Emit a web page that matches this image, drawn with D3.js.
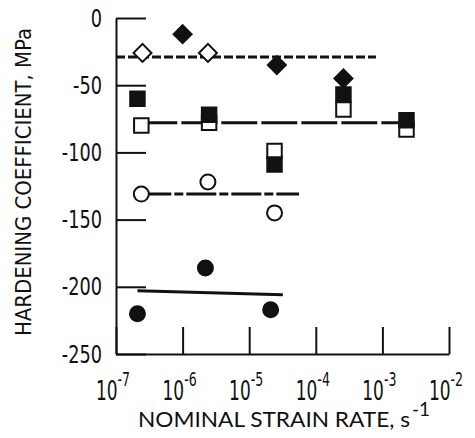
<!DOCTYPE html>
<html lang="en">
<head>
<meta charset="UTF-8">
<title>Hardening coefficient vs strain rate</title>
<script src="https://d3js.org/d3.v7.min.js"></script>
<style>
  body { margin: 0; background: #fff; }
  svg { display: block; }
</style>
</head>
<body>
<div class="canvas"></div>
<script>
  // x ticks (decades) and y ticks
  const xTicks = [1e-7, 1e-6, 1e-5, 1e-4, 1e-3, 1e-2]
  const yTicks = [0, -50, -100, -150, -200, -250]

  // series
  const openDiamondX = [2.5e-7, 2.4e-6]
  const openDiamondY = [-26, -26]
  const filledDiamondX = [1.0e-6, 2.6e-5, 2.6e-4]
  const filledDiamondY = [-12, -35, -45]
  const openSquareX = [2.4e-7, 2.5e-6, 2.4e-5, 2.6e-4, 2.3e-3]
  const openSquareY = [-80, -78, -99, -68, -83]
  const filledSquareX = [2.1e-7, 2.5e-6, 2.4e-5, 2.6e-4, 2.3e-3]
  const filledSquareY = [-60, -72, -109, -57, -76]
  const openCircleX = [2.4e-7, 2.4e-6, 2.4e-5]
  const openCircleY = [-131, -122, -145]
  const filledCircleX = [2.1e-7, 2.2e-6, 2.1e-5]
  const filledCircleY = [-220, -186, -217]

  // fitted lines
  const diamondLineX = [1e-7, 8e-4]
  const diamondLineY = [-29, -29]
  const squareLineX = [2.4e-7, 2.3e-3]
  const squareLineY = [-78, -78]
  const openCircleLineX = [2.4e-7, 5.6e-5]
  const openCircleLineY = [-131, -131]
  const filledCircleLineX = [2.1e-7, 3.2e-5]
  const filledCircleLineY = [-203, -206]

  const W = 475, H = 438
  const svg = d3.select('.canvas')
    .append('svg')
    .attr('width', W)
    .attr('height', H)

  const x = d3.scaleLog().domain([1e-7, 1e-2]).range([116, 449])
  const y = d3.scaleLinear().domain([0, -250]).range([18, 354])

  const ink = '#111'
  const zip = (xs, ys) => xs.map((v, i) => [v, ys[i]])

  // axes: ticks point inward
  svg.append('g')
    .attr('transform', `translate(0, ${y(-250)})`)
    .call(d3.axisBottom(x).tickValues(xTicks).tickSizeInner(-27).tickSizeOuter(0).tickFormat(''))
  svg.append('g')
    .attr('transform', `translate(${x(1e-7)}, 0)`)
    .call(d3.axisLeft(y).tickValues(yTicks).tickSizeInner(-30).tickSizeOuter(0).tickFormat(''))
  svg.selectAll('.domain, .tick line')
    .attr('stroke', ink)
    .attr('stroke-width', 2)

  // y tick labels (condensed look)
  yTicks.forEach(v => {
    svg.append('text')
      .attr('transform', `translate(102, ${y(v)}) scale(0.82, 1)`)
      .attr('text-anchor', 'end')
      .attr('dy', '0.36em')
      .attr('font-family', 'DejaVu Sans Condensed, DejaVu Sans')
      .attr('font-size', 24)
      .attr('fill', ink)
      .text(v)
  })

  // x tick labels 10^n
  xTicks.forEach(v => {
    const t = svg.append('text')
      .attr('transform', `translate(${x(v) - 3}, 400) scale(0.7, 1)`)
      .attr('text-anchor', 'middle')
      .attr('font-family', 'DejaVu Sans Condensed, DejaVu Sans')
      .attr('font-size', 27)
      .attr('fill', ink)
    t.append('tspan').text('10')
    t.append('tspan')
      .attr('dy', -14)
      .attr('font-size', 20)
      .text('-' + Math.round(-Math.log10(v)))
  })

  // axis titles
  const xt = svg.append('text')
    .attr('x', 138)
    .attr('y', 427)
    .attr('font-family', 'Lato, Open Sans, sans-serif')
    .attr('font-size', 22)
    .attr('fill', ink)
  xt.append('tspan')
    .attr('textLength', 272)
    .attr('lengthAdjust', 'spacingAndGlyphs')
    .text('NOMINAL STRAIN RATE, s')
  xt.append('tspan').attr('dx', 2).attr('dy', -11).attr('font-size', 19).text('-1')

  svg.append('text')
    .attr('transform', 'translate(31, 182) rotate(-90)')
    .attr('text-anchor', 'middle')
    .attr('font-family', 'DejaVu Sans Condensed, DejaVu Sans')
    .attr('font-size', 22)
    .attr('textLength', 308)
    .attr('lengthAdjust', 'spacingAndGlyphs')
    .attr('fill', ink)
    .text('HARDENING COEFFICIENT, MPa')

  // fit lines
  const line = d3.line().x(d => x(d[0])).y(d => y(d[1]))
  const lines = [
    [zip(diamondLineX, diamondLineY), '9,3'],
    [zip(squareLineX, squareLineY), '36,4'],
    [zip(openCircleLineX, openCircleLineY), '30,3,9,3'],
    [zip(filledCircleLineX, filledCircleLineY), null]
  ]
  lines.forEach(([pts, dash]) => {
    svg.append('path')
      .attr('d', line(pts))
      .attr('fill', 'none')
      .attr('stroke', ink)
      .attr('stroke-width', 3)
      .attr('stroke-dasharray', dash)
  })

  // markers
  const diamond = d3.symbol().type(d3.symbolSquare).size(162)
  const square = d3.symbol().type(d3.symbolSquare).size(210)

  const drawDiamonds = (xs, ys, filled) => {
    svg.append('g').selectAll('path')
      .data(zip(xs, ys))
      .enter()
      .append('path')
      .attr('d', diamond)
      .attr('transform', d => `translate(${x(d[0])}, ${y(d[1])}) rotate(45)`)
      .attr('fill', filled ? ink : '#fff')
      .attr('stroke', ink)
      .attr('stroke-width', 2)
  }
  const drawSquares = (xs, ys, filled) => {
    svg.append('g').selectAll('path')
      .data(zip(xs, ys))
      .enter()
      .append('path')
      .attr('d', square)
      .attr('transform', d => `translate(${x(d[0])}, ${y(d[1])})`)
      .attr('fill', filled ? ink : '#fff')
      .attr('stroke', ink)
      .attr('stroke-width', 2)
  }
  const drawCircles = (xs, ys, filled) => {
    svg.append('g').selectAll('circle')
      .data(zip(xs, ys))
      .enter()
      .append('circle')
      .attr('cx', d => x(d[0]))
      .attr('cy', d => y(d[1]))
      .attr('r', 7.5)
      .attr('fill', filled ? ink : '#fff')
      .attr('stroke', ink)
      .attr('stroke-width', 2)
  }

  drawDiamonds(openDiamondX, openDiamondY, false)
  drawDiamonds(filledDiamondX, filledDiamondY, true)
  drawSquares(openSquareX, openSquareY, false)
  drawSquares(filledSquareX, filledSquareY, true)
  drawCircles(openCircleX, openCircleY, false)
  drawCircles(filledCircleX, filledCircleY, true)
</script>
</body>
</html>
